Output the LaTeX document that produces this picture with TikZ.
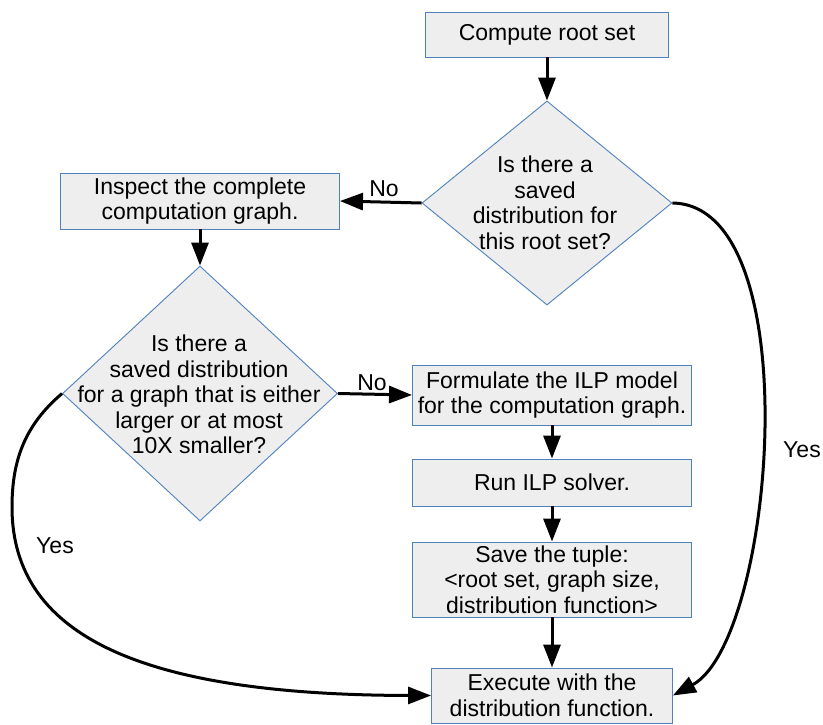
\documentclass[tikz,border=0pt]{standalone}
\usepackage{fontspec}
\setmainfont{Liberation Sans}
\usetikzlibrary{shapes.geometric, arrows.meta}
\definecolor{boxfill}{HTML}{EEEEEE}
\definecolor{boxline}{RGB}{79,129,189}
\begin{document}
\begin{tikzpicture}[x=1pt, y=-1pt,
  every node/.style={font=\fontsize{23}{25.5}\selectfont},
  procbox/.style={draw=boxline, fill=boxfill, line width=0.9pt, rectangle,
                  inner sep=0pt, align=center},
  decision/.style={draw=boxline, fill=boxfill, line width=0.9pt, diamond,
                   inner sep=0pt},
  dtext/.style={align=center, inner sep=0pt},
  flow/.style={line width=3pt, -{Triangle[length=23pt, width=17pt]}},
  lbl/.style={inner sep=0pt}]
\useasboundingbox (0,0) rectangle (823,724);

% process boxes
\node[procbox, minimum width=243pt, minimum height=45pt] (b1) at (547,34.5) {Compute root set};
\node[procbox, minimum width=279pt, minimum height=56pt] (b2) at (200,201) {Inspect the complete\\computation graph.};
\node[procbox, minimum width=279pt, minimum height=60pt] (b3) at (552,395) {Formulate the ILP model\\for the computation graph.};
\node[procbox, minimum width=279pt, minimum height=47pt] (b4) at (552,482.5) {Run ILP solver.};
\node[procbox, minimum width=279pt, minimum height=75pt] (b5) at (552,579.5) {Save the tuple:\\\textless root set, graph size,\\distribution function\textgreater};
\node[procbox, minimum width=241pt, minimum height=55pt] (b6) at (552,695.5) {Execute with the\\distribution function.};

% decisions
\node[decision, minimum width=250pt, minimum height=204pt] (d1) at (547,203) {};
\node[dtext] (d1t) at (545,203) {Is there a\\saved\\distribution for\\this root set?};
\node[decision, minimum width=275pt, minimum height=255pt] (d2) at (200,393.5) {};
\node[dtext] (d2t) at (199,394.5) {Is there a\\saved distribution\\for a graph that is either\\larger or at most\\10X smaller?};

% connectors
\draw[flow] (b1.south) -- (d1.north);
\draw[flow] (d1.west) -- (b2.east);
\draw[flow] (b2.south) -- (d2.north);
\draw[flow] (d2.east) -- (b3.west);
\draw[flow] (b3.south) -- (b4.north);
\draw[flow] (b4.south) -- (b5.north);
\draw[flow] (b5.south) -- (b6.north);
\draw[flow] (d1.east) .. controls (810,205) and (775,640) .. (b6.east);
\draw[flow] (d2.west) .. controls (25,425) and (12,460) .. (12,507)
            .. controls (12,640) and (150,695) .. (b6.west);

% branch labels
\node[lbl] (no1) at (384,189) {No};
\node[lbl] (no2) at (372,383) {No};
\node[lbl] (yes1) at (802,450) {Yes};
\node[lbl] (yes2) at (55,546) {Yes};
\end{tikzpicture}
\end{document}
